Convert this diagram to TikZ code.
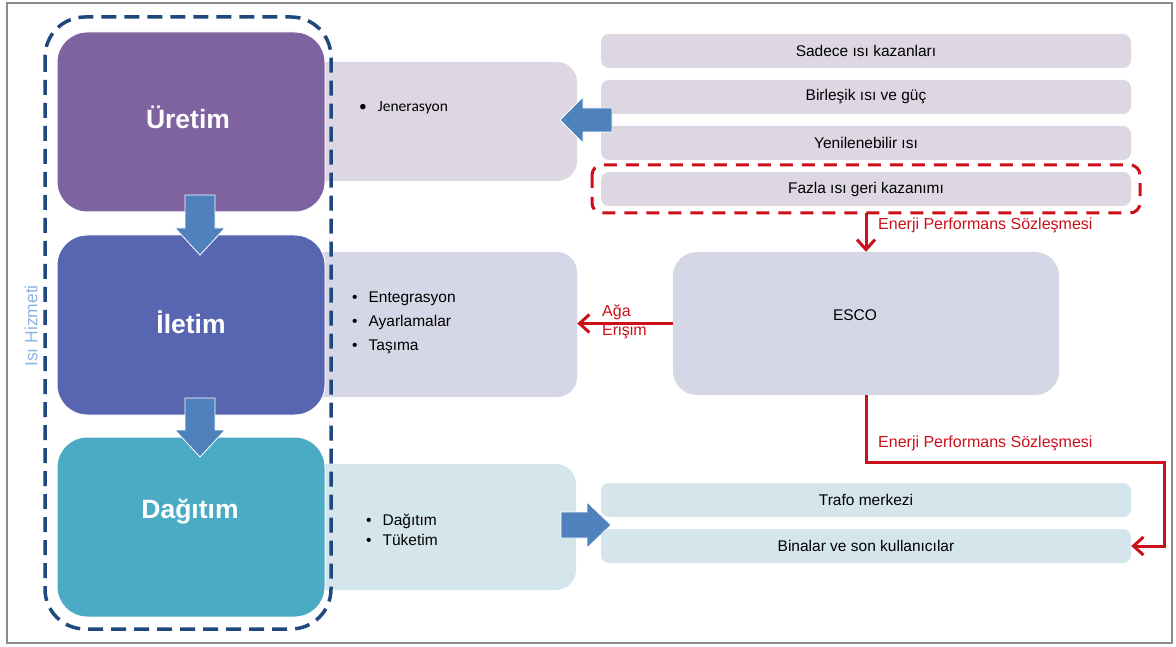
\documentclass[tikz,border=0pt]{standalone}
\usepackage{fontspec}
\setmainfont{Liberation Sans}
\newfontfamily\calib{Carlito}
\usetikzlibrary{arrows.meta}
\definecolor{cUretim}{RGB}{127,98,160}
\definecolor{cIletim}{RGB}{88,101,176}
\definecolor{cDagitim}{RGB}{75,171,196}
\definecolor{cBlue}{RGB}{79,129,189}
\definecolor{cLilac}{RGB}{221,215,228}
\definecolor{cGrey}{RGB}{214,215,230}
\definecolor{cAqua}{RGB}{212,229,236}
\definecolor{cRed}{RGB}{204,16,26}
\definecolor{cNavy}{RGB}{31,73,125}
\definecolor{cFrame}{RGB}{140,140,140}
\definecolor{cSide}{RGB}{142,180,227}
\tikzset{
  mainbox/.style={draw=white, line width=1pt, rounded corners=30pt, minimum width=268pt, inner sep=0pt},
  maintitle/.style={text=white, font=\fontsize{26.5}{30}\selectfont\bfseries},
  sidebox/.style={rounded corners=20pt, inner sep=0pt, minimum width=277pt},
  listbox/.style={rounded corners=8pt, inner sep=0pt, minimum width=530pt, minimum height=34pt, font=\fontsize{15.5}{18}\selectfont},
  bullets/.style={align=left, anchor=west, inner sep=0pt},
  redlink/.style={draw=cRed, line width=3pt, -{Straight Barb[length=10pt,width=18pt,line width=3pt]}},
  redlabel/.style={text=cRed, font=\fontsize{16}{18.5}\selectfont, inner sep=0pt},
  blockarrow/.style={fill=cBlue, draw=white, line width=0.8pt},
}
\begin{document}
\begin{tikzpicture}[x=1pt, y=-1pt]
\useasboundingbox (0,0) rectangle (1176,647);
\fill[white] (0,0) rectangle (1176,647);
\draw[cFrame, line width=2pt] (7,3) rectangle (1172,643);

% light detail panels behind the stage boxes
\node[sidebox, fill=cLilac, minimum height=119pt] (genpanel) at (438.5,121.5) {};
\node[sidebox, fill=cGrey, minimum height=145pt] (transpanel) at (438.5,324.5) {};
\node[sidebox, fill=cAqua, minimum height=126pt] (distpanel) at (437.5,527) {};

% dashed service boundary
\draw[cNavy, line width=3.5pt, dash pattern=on 15pt off 8pt, rounded corners=40pt] (45,17) rectangle (331,629);

% stage boxes
\node[mainbox, fill=cUretim, minimum height=180pt] (uretim) at (191,122) {};
\node[mainbox, fill=cIletim, minimum height=180pt] (iletim) at (191,325) {};
\node[mainbox, fill=cDagitim, minimum height=180pt] (dagitim) at (191,527) {};
\node[maintitle] (tUretim) at (188,117) {Üretim};
\node[maintitle] (tIletim) at (191,322) {İletim};
\node[maintitle] (tDagitim) at (190,512) {Dağıtım};

% downward block arrows between stages
\filldraw[blockarrow] (185,195) -- (215,195) -- (215,228) -- (225,228) -- (200,255) -- (175,228) -- (185,228) -- cycle;
\filldraw[blockarrow] (185,398) -- (215,398) -- (215,430) -- (225,430) -- (200,457) -- (175,430) -- (185,430) -- cycle;

% side label
\node[text=cSide, rotate=90, font=\fontsize{17.5}{20}\selectfont] (service) at (31,326) {Isı Hizmeti};

% panel contents
\node[bullets, font=\calib\fontsize{15.5}{18}\selectfont] (genlist) at (359,108) {\textbullet\hspace{11pt}Jenerasyon};
\node[bullets, font=\fontsize{15.5}{24}\selectfont] (translist) at (352,323) {\textbullet\hspace{11pt}Entegrasyon\\\textbullet\hspace{11pt}Ayarlamalar\\\textbullet\hspace{11pt}Taşıma};
\node[bullets, font=\fontsize{15.5}{20}\selectfont] (distlist) at (366,530) {\textbullet\hspace{11pt}Dağıtım\\\textbullet\hspace{11pt}Tüketim};

% generation sources
\node[listbox, fill=cLilac] (src1) at (866,51) {Sadece ısı kazanları};
\node[listbox, fill=cLilac] (src2) at (866,97) {Birleşik ısı ve güç};
\node[listbox, fill=cLilac] (src3) at (866,143) {Yenilenebilir ısı};
\node[listbox, fill=cLilac] (src4) at (866,189) {Fazla ısı geri kazanımı};
\draw[cRed, line width=3pt, dash pattern=on 13pt off 9pt, rounded corners=10pt] (592,165) rectangle (1140,213);
\coordinate (wasteframe) at (866,213);

% block arrows from sources and to consumers
\filldraw[blockarrow] (612,108) -- (583,108) -- (583,97) -- (560,120) -- (583,143) -- (583,132) -- (612,132) -- cycle;
\filldraw[blockarrow] (561,512) -- (587,512) -- (587,502) -- (611,525) -- (587,548) -- (587,538) -- (561,538) -- cycle;

% consumers
\node[listbox, fill=cAqua] (trafo) at (866,500) {Trafo merkezi};
\node[listbox, fill=cAqua] (binalar) at (866,546) {Binalar ve son kullanıcılar};

% ESCO
\node[rounded corners=24pt, fill=cGrey, minimum width=386pt, minimum height=143pt, inner sep=0pt] (esco) at (866,323.5) {};
\node[font=\fontsize{15.5}{18}\selectfont] (tEsco) at (855,315) {ESCO};

% contract and access links
\draw[redlink] (wasteframe) -- (esco.north);
\node[redlabel, anchor=west] (epc1) at (878,225) {Enerji Performans Sözleşmesi};
\draw[redlink] (esco.west) -- (transpanel.east |- esco.west);
\node[redlabel, anchor=west, align=left] (access) at (602,322) {Ağa\\Erişim};
\coordinate (turn) at (1164,462);
\draw[redlink] (esco.south) |- (turn) |- (binalar.east);
\node[redlabel, anchor=west] (epc2) at (878,443) {Enerji Performans Sözleşmesi};
\end{tikzpicture}
\end{document}
